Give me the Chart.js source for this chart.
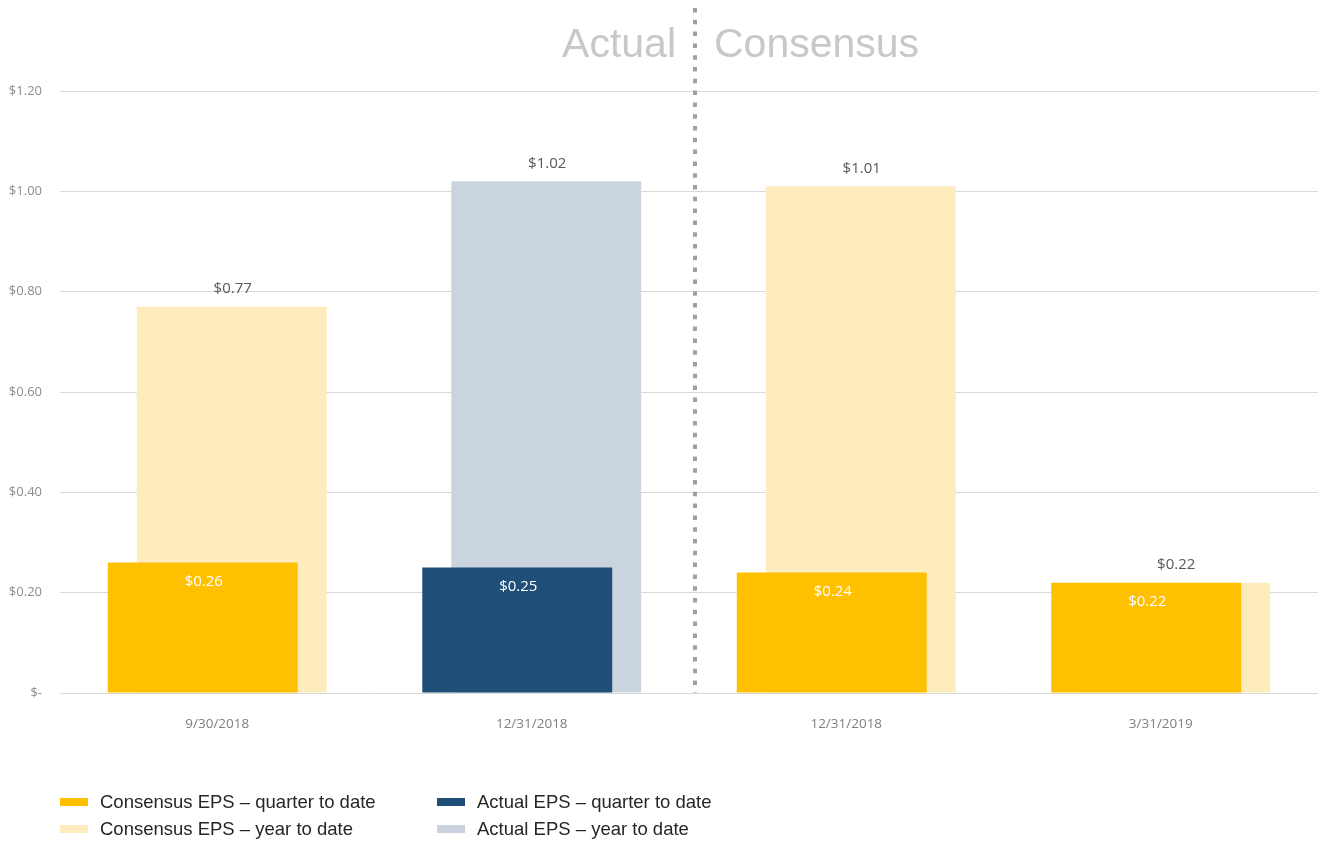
<!DOCTYPE html>
<html>
<head>
<meta charset="utf-8">
<script src="https://cdn.jsdelivr.net/npm/chart.js@4"></script>
<style>
    html, body { margin: 0; padding: 0; background: #fff; }
    #wrap { position: relative; width: 1321px; height: 844px; }
    #legend {
        position: absolute; left: 60px; top: 790px;
        display: grid; grid-template-columns: 377px 320px; row-gap: 3px;
        font-family: "Liberation Sans", Arial, sans-serif; font-size: 18.5px; color: #262626;
    }
    .item { display: flex; align-items: center; height: 24px; }
    .swatch { width: 28px; height: 8px; margin-right: 12px; }
</style>
</head>
<body>
<div id="wrap">
    <canvas id="mycanvas" width="1321" height="844"></canvas>
    <div id="legend"></div>
</div>
<script>
const categories = ['9/30/2018', '12/31/2018', '12/31/2018', '3/31/2019'];
const consensusQtd = [0.26, null, 0.24, 0.22];
const consensusYtd = [0.77, null, 1.01, 0.22];
const actualQtd = [null, 0.25, null, null];
const actualYtd = [null, 1.02, null, null];
const yTicks = [0, 0.2, 0.4, 0.6, 0.8, 1.0, 1.2];

function createChart() {
    const ctx = document.getElementById('mycanvas').getContext('2d');

    // value labels, divider and section titles
    const overlay = {
        id: 'overlay',
        afterDatasetsDraw: chart => {
            const c = chart.ctx;
            c.save();
            c.font = '15px "Open Sans"';
            c.textAlign = 'center';
            c.textBaseline = 'middle';
            chart.data.datasets.forEach((ds, i) => {
                const meta = chart.getDatasetMeta(i);
                meta.data.forEach((bar, j) => {
                    const v = ds.data[j];
                    if (v == null) return;
                    const ytd = ds.stack === 'ytd';
                    c.fillStyle = ytd ? '#595959' : '#ffffff';
                    c.fillText('$' + v.toFixed(2), bar.x + 1, ytd ? bar.y - 18 : bar.y + 19);
                });
            });
            c.restore();
        },
        afterDraw: chart => {
            const c = chart.ctx;
            const x = chart.scales.x;
            const divX = (x.getPixelForValue(1) + x.getPixelForValue(2)) / 2 + 6;
            c.save();
            c.strokeStyle = '#a0a0a0';
            c.lineWidth = 4;
            c.setLineDash([4.5, 7.3]);
            c.beginPath();
            c.moveTo(divX, 8);
            c.lineTo(divX, chart.chartArea.bottom);
            c.stroke();
            c.setLineDash([]);
            c.font = '41px "Liberation Sans", Arial';
            c.fillStyle = '#c8c8c8';
            c.textBaseline = 'alphabetic';
            c.textAlign = 'right';
            c.fillText('Actual', divX - 19, 57);
            c.textAlign = 'left';
            c.fillText('Consensus', divX + 19, 57);
            c.restore();
        }
    };

    const myChart = new Chart(ctx, {
        type: 'bar',
        data: {
            labels: categories,
            datasets: [
                { label: 'Consensus EPS \u2013 quarter to date', data: consensusQtd, backgroundColor: '#FFC000', stack: 'qtd' },
                { label: 'Consensus EPS \u2013 year to date', data: consensusYtd, backgroundColor: '#FEEBBE', stack: 'ytd' },
                { label: 'Actual EPS \u2013 quarter to date', data: actualQtd, backgroundColor: '#1F4E79', stack: 'qtd' },
                { label: 'Actual EPS \u2013 year to date', data: actualYtd, backgroundColor: '#CAD4DF', stack: 'ytd' },
            ]
        },
        options: {
            responsive: false,
            animation: false,
            categoryPercentage: 0.1844,
            barPercentage: 6.55,
            layout: { padding: { top: 91, right: 3, left: 0, bottom: 100 } },
            plugins: {
                legend: { display: false },
                tooltip: { enabled: false },
            },
            scales: {
                x: {
                    grid: { display: false },
                    border: { display: false },
                    ticks: { color: '#7f7f7f', font: { family: 'Open Sans', size: 13.5 }, padding: 15 },
                    afterFit: s => { s.height = 51; },
                },
                y: {
                    min: 0,
                    max: 1.2,
                    afterBuildTicks: s => { s.ticks = yTicks.map(v => ({ value: v })); },
                    grid: { color: '#d9d9d9', lineWidth: 1, drawTicks: false },
                    border: { display: false },
                    ticks: {
                        color: '#8c8c8c',
                        font: { family: 'Open Sans', size: 13 },
                        padding: 18,
                        callback: v => v === 0 ? '$-' : '$' + v.toFixed(2),
                    },
                    afterFit: s => { s.width = 60; },
                },
            },
        },
        plugins: [overlay],
    });

    // two-column legend
    const legend = document.getElementById('legend');
    [0, 2, 1, 3].forEach(i => {
        const ds = myChart.data.datasets[i];
        const item = document.createElement('div');
        item.className = 'item';
        const sw = document.createElement('span');
        sw.className = 'swatch';
        sw.style.background = ds.backgroundColor;
        item.appendChild(sw);
        item.appendChild(document.createTextNode(ds.label));
        legend.appendChild(item);
    });
}

createChart();
</script>
</body>
</html>
